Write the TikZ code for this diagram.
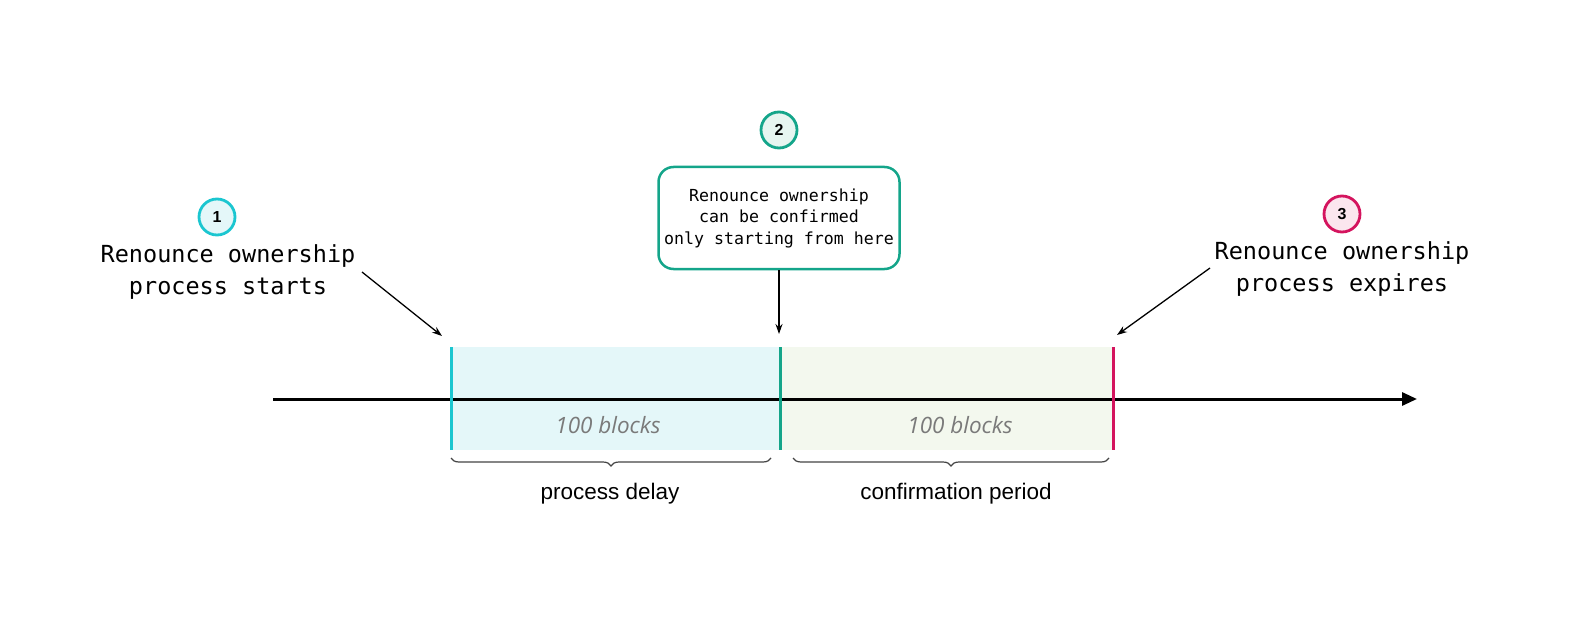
\documentclass[tikz,border=0pt]{standalone}
\usepackage{fontspec}
\setmainfont{Liberation Sans}
\newfontfamily\monofont{DejaVu Sans Mono}
\newfontfamily\blockfont{Open Sans}
\usetikzlibrary{arrows.meta,decorations.pathreplacing}
\definecolor{cyanc}{HTML}{1BC6D0}
\definecolor{tealc}{HTML}{14A58A}
\definecolor{magc}{HTML}{D4145E}
\definecolor{cyanfill}{HTML}{E4F7F9}
\definecolor{greenfill}{HTML}{F3F8EE}
\definecolor{tealfill}{HTML}{E6F5F0}
\definecolor{pinkfill}{HTML}{FBE6EE}
\definecolor{graytext}{HTML}{7A7A7A}
\definecolor{bracec}{HTML}{444444}
\begin{document}
\begin{tikzpicture}[x=1bp,y=-1bp,
  numcircle/.style={circle,minimum size=36bp,inner sep=0pt,line width=2.8bp,font=\fontsize{16}{16}\selectfont\bfseries},
  bigmono/.style={align=center,font=\monofont\fontsize{23.5bp}{32bp}\selectfont,inner sep=0pt},
  smallmono/.style={align=center,font=\monofont\fontsize{16.6bp}{21.5bp}\selectfont},
  blocklabel/.style={font=\blockfont\itshape\fontsize{22.5bp}{22.5bp}\selectfont,text=graytext},
  periodlabel/.style={font=\fontsize{22.5bp}{22.5bp}\selectfont},
  pointer/.style={-{Stealth[length=10bp,width=7bp]},line width=1.3bp},
  bracestyle/.style={decorate,decoration={brace,mirror,amplitude=8bp},line width=1.2bp,draw=bracec},
  marker/.style={line width=3bp}
]
\useasboundingbox (0,0) rectangle (1576,634);
% shaded periods
\fill[cyanfill] (451,347) rectangle (780,450);
\fill[greenfill] (780,347) rectangle (1113,450);
% axis
\coordinate (axs) at (273,399);
\coordinate (axe) at (1417,399);
\draw[line width=3bp,-{Triangle[length=15bp,width=13bp]}] (axs) -- (axe);
% markers
\coordinate (m1t) at (451,347); \coordinate (m1b) at (451,450);
\coordinate (m2t) at (780,347); \coordinate (m2b) at (780,450);
\coordinate (m3t) at (1113,347); \coordinate (m3b) at (1113,450);
\draw[marker,cyanc] (m1t) -- (m1b);
\draw[marker,tealc] (m2t) -- (m2b);
\draw[marker,magc] (m3t) -- (m3b);
% block labels
\node[blocklabel] (b1) at (608,425) {100 blocks};
\node[blocklabel] (b2) at (960,425) {100 blocks};
% braces
\coordinate (br1a) at (451,458); \coordinate (br1b) at (771,458);
\coordinate (br2a) at (793,458); \coordinate (br2b) at (1109,458);
\draw[bracestyle] (br1a) -- (br1b);
\draw[bracestyle] (br2a) -- (br2b);
\node[periodlabel] (p1) at (610,494) {process delay};
\node[periodlabel] (p2) at (956,494) {confirmation period};
% event 1
\node[numcircle,draw=cyanc,fill=cyanfill] (c1) at (217,217) {1};
\node[bigmono] (t1) at (228,272) {Renounce ownership\\process starts};
\coordinate (a1s) at (362,272);
\coordinate (a1e) at (442,336);
\draw[pointer] (a1s) -- (a1e);
% event 2
\node[numcircle,draw=tealc,fill=tealfill] (c2) at (779,130) {2};
\node[smallmono,draw=tealc,line width=2.5bp,rounded corners=15bp,minimum width=241bp,minimum height=102bp] (box) at (779,218) {Renounce ownership\\can be confirmed\\only starting from here};
\coordinate (a2e) at (779,334);
\draw[pointer] (box.south) -- (a2e);
% event 3
\node[numcircle,draw=magc,fill=pinkfill] (c3) at (1342,214) {3};
\node[bigmono] (t3) at (1342,269) {Renounce ownership\\process expires};
\coordinate (a3s) at (1210,268);
\coordinate (a3e) at (1117,335);
\draw[pointer] (a3s) -- (a3e);
\end{tikzpicture}
\end{document}
